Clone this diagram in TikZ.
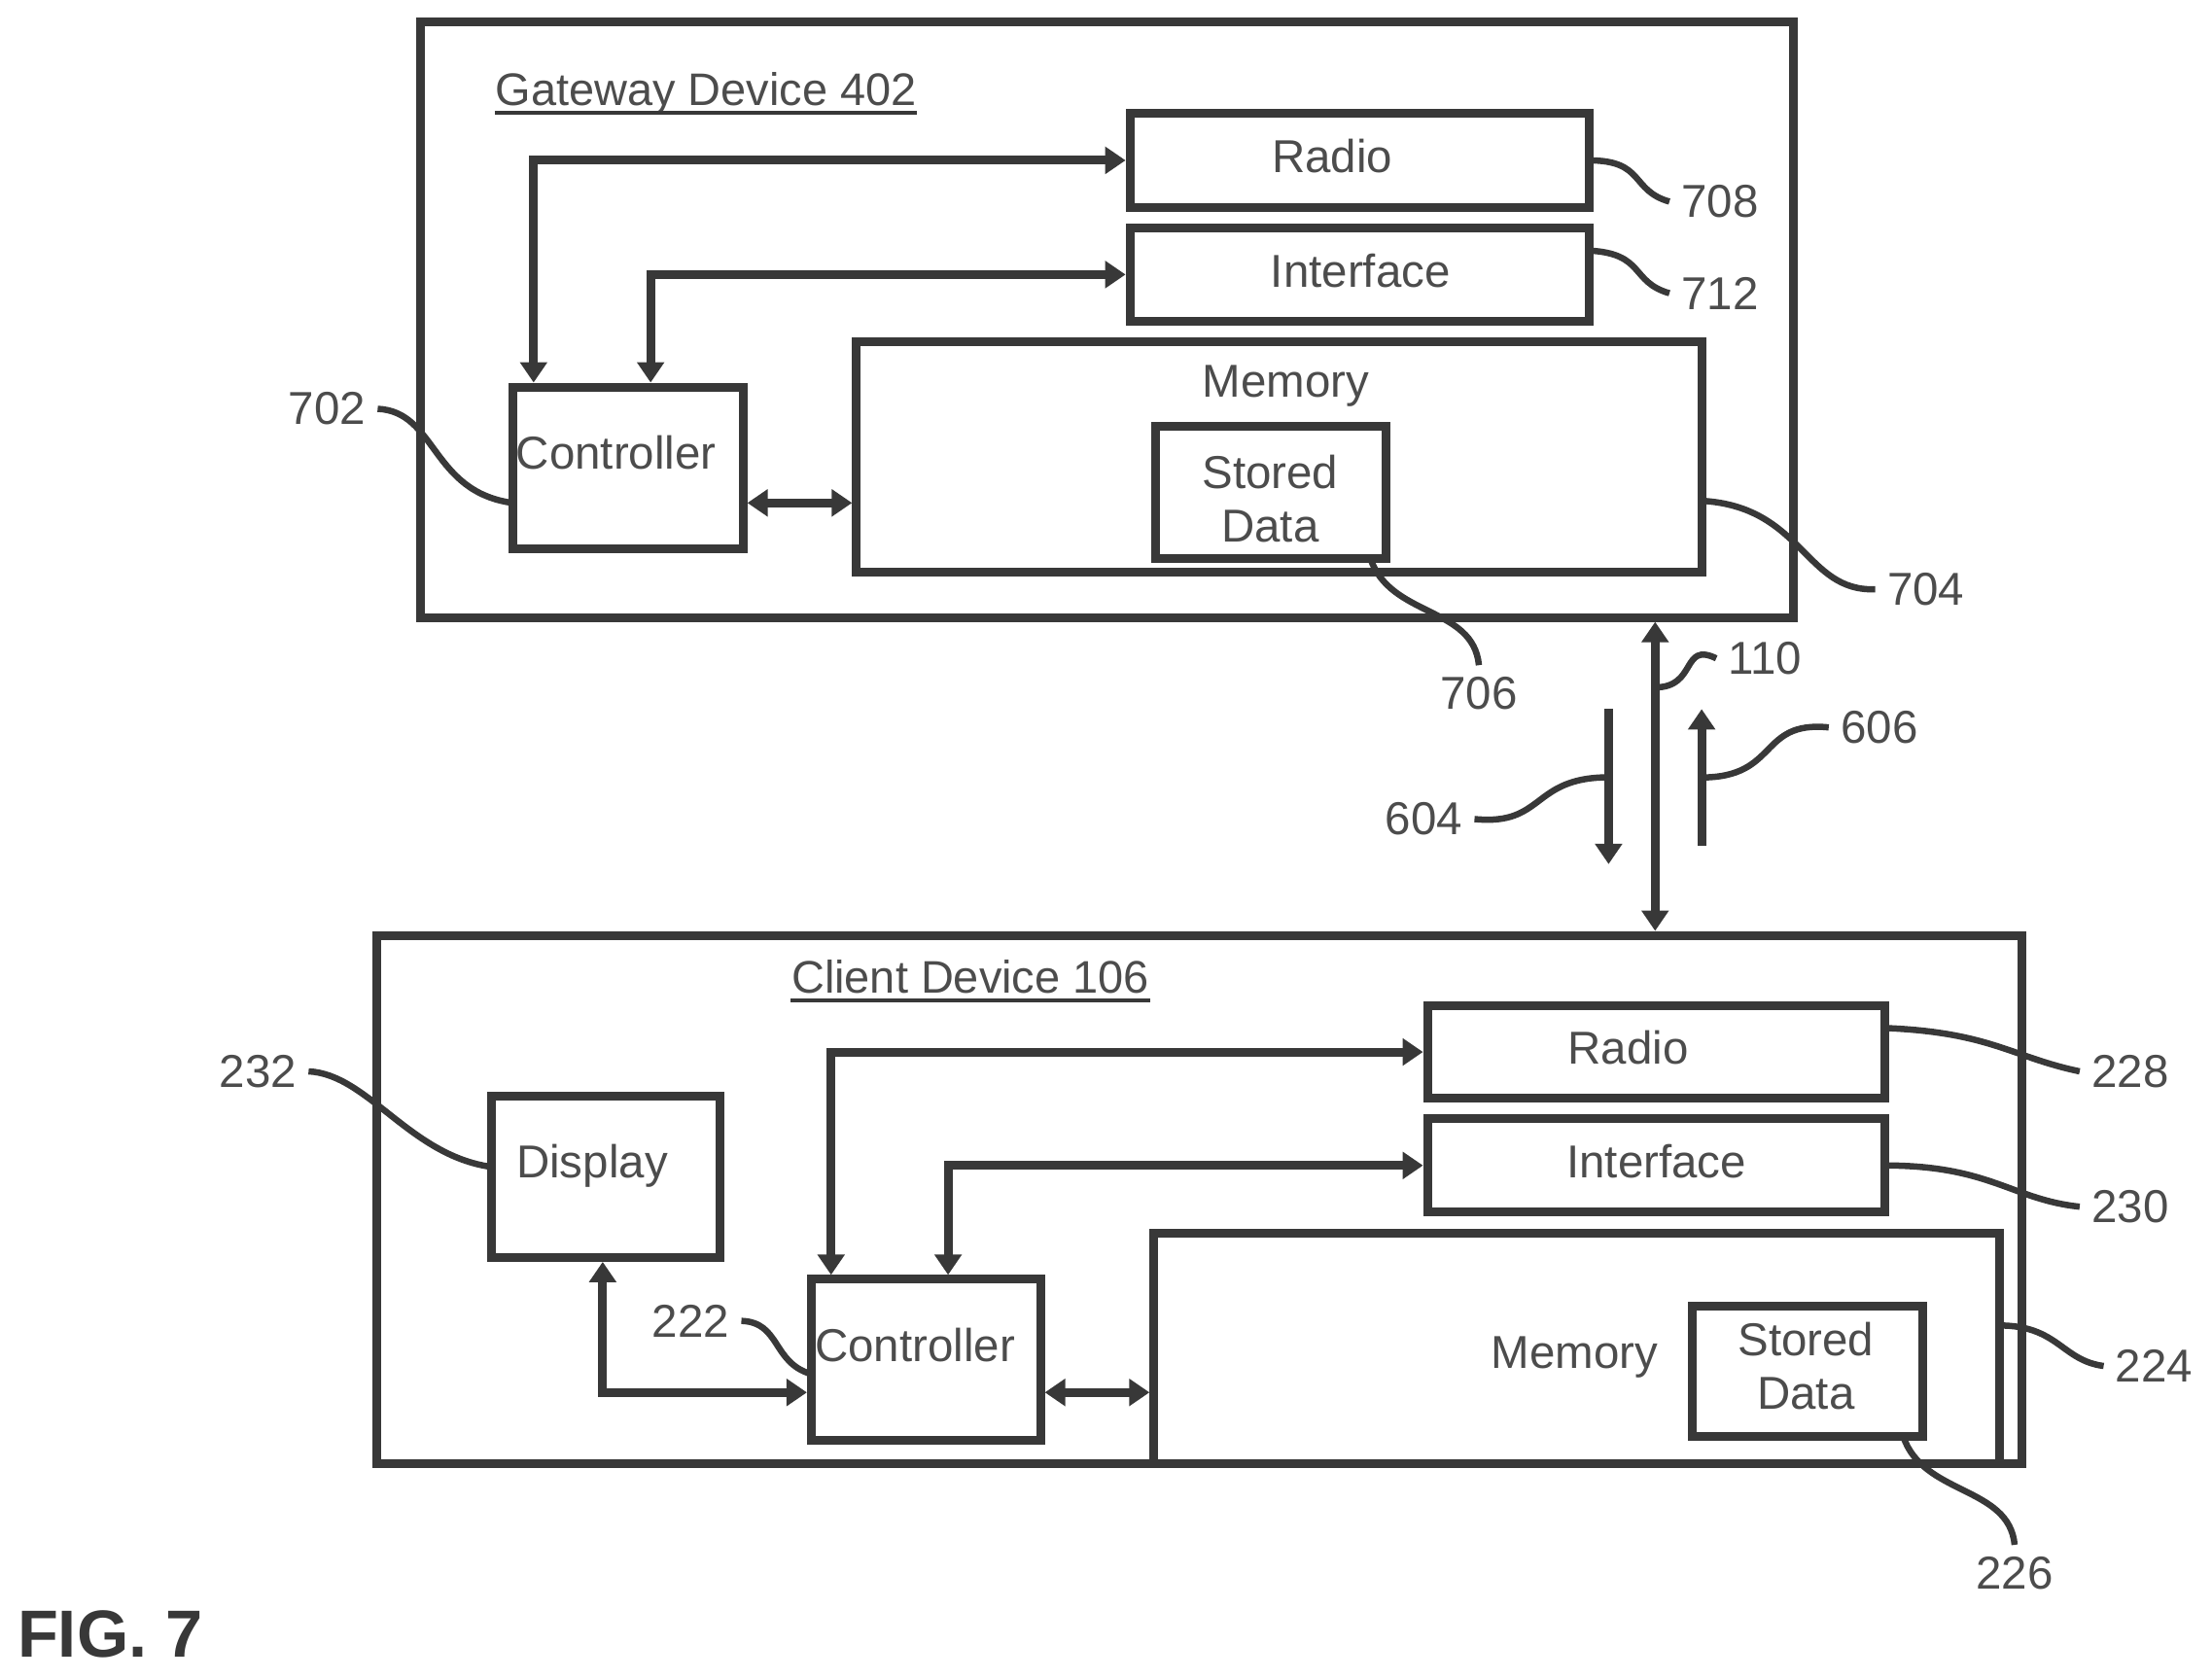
\documentclass[tikz,border=0pt]{standalone}
\usepackage{fontspec}
\setmainfont{Liberation Sans}
\usetikzlibrary{arrows.meta,calc}
\definecolor{inkline}{gray}{0.22}
\definecolor{inktext}{gray}{0.30}
\tikzset{
  devbox/.style 2 args={draw=inkline, line width=0.09cm, outer sep=0pt, anchor=north west,
    minimum width=#1*0.0145cm, minimum height=#2*0.0145cm},
  link/.style={draw=inkline, line width=0.09cm, {Triangle[length=0.21cm,width=0.27cm]}-{Triangle[length=0.21cm,width=0.27cm]},
    shorten <=0.045cm, shorten >=0.045cm},
  oneway/.style={draw=inkline, line width=0.09cm, -{Triangle[length=0.21cm,width=0.27cm]}},
  leader/.style={draw=inkline, line width=0.065cm},
  txt/.style={text=inktext, font=\fontsize{13.5}{15.7}\selectfont, align=center},
  titletxt/.style={txt, font=\fontsize{13.35}{15.7}\selectfont, anchor=south west, inner xsep=0pt, inner ysep=1pt, text depth=1pt},
  titlerule/.style={draw=inkline, line width=0.04cm}
}
\begin{document}
\begin{tikzpicture}[x=0.0145cm, y=-0.0145cm]
    \useasboundingbox (0,0) rectangle (1569,1191);

    % the gateway and its blocks
    \node[devbox={973.5}{422.5}] (gateway) at (298.5,15.5) {};
    \node[devbox={325.5}{66.5}] (gwradio) at (801.5,80.5) {};
    \node[devbox={325.5}{66.5}] (gwiface) at (801.5,161.5) {};
    \node[devbox={599.5}{163.5}] (gwmem) at (607.5,242.5) {};
    \node[devbox={163}{93.5}] (gwdata) at (820,302.5) {};
    \node[devbox={163.5}{114.5}] (gwctrl) at (363.5,274.5) {};

    % the client and its blocks
    \node[devbox={1166.5}{374.5}] (client) at (267.5,663.5) {};
    \node[devbox={324.5}{65.5}] (clradio) at (1012.5,713.5) {};
    \node[devbox={324.5}{66.5}] (cliface) at (1012.5,793.5) {};
    \node[devbox={599.5}{163.5}] (clmem) at (818.5,874.5) {};
    \node[devbox={163.5}{92.5}] (cldata) at (1200.5,926.5) {};
    \node[devbox={162.5}{114.5}] (clctrl) at (575.5,907.5) {};
    \node[devbox={162.5}{114.5}] (cldisp) at (348.5,777.5) {};

    % the texts
    \node[titletxt] (gwtitle) at (351,80) {Gateway Device 402};
    \node[titletxt] (cltitle) at (561,710) {Client Device 106};
    \draw[titlerule] (gwtitle.south west) -- (gwtitle.south east);
    \draw[titlerule] (cltitle.south west) -- (cltitle.south east);
    \node[txt] (gwradiot) at (945,111) {Radio};
    \node[txt] (gwifacet) at (965,192) {Interface};
    \node[txt] (gwmemt) at (912,274) {Memory};
    \node[txt] (gwdatat) at (901,354) {Stored\\Data};
    \node[txt] (gwctrlt) at (437,321) {Controller};
    \node[txt] (clradiot) at (1155,743) {Radio};
    \node[txt] (clifacet) at (1175,824) {Interface};
    \node[txt] (clmemt) at (1117,963) {Memory};
    \node[txt] (cldatat) at (1281,969) {Stored\\Data};
    \node[txt] (clctrlt) at (649,954) {Controller};
    \node[txt] (cldispt) at (420,827) {Display};
    \node[text=inkline, font=\fontsize{19.5}{22}\selectfont\bfseries, anchor=west, inner sep=0pt] (figlabel) at (12,1159) {FIG. 7};

    % the reference numbers
    \node[txt] (n702) at (232,290) {702};
    \node[txt] (n708) at (1220,143) {708};
    \node[txt] (n712) at (1220,208) {712};
    \node[txt] (n704) at (1366,418) {704};
    \node[txt] (n706) at (1049,492) {706};
    \node[txt] (n110) at (1252,467) {110};
    \node[txt] (n606) at (1333,516) {606};
    \node[txt] (n604) at (1010,581) {604};
    \node[txt] (n232) at (183,760) {232};
    \node[txt] (n222) at (490,937) {222};
    \node[txt] (n228) at (1511,760) {228};
    \node[txt] (n230) at (1511,856) {230};
    \node[txt] (n224) at (1528,969) {224};
    \node[txt] (n226) at (1429,1116) {226};

    % points off the anchors, used by the arrows and the leaders below
    \coordinate (gwmemlink) at ($(gwctrl.east)+(0,25)$);
    \coordinate (clmemlink) at ($(clctrl.east)+(0,23)$);
    \coordinate (clfromdisp) at ($(clctrl.west)+(0,23)$);
    \coordinate (air) at ($(gateway.south east)+(-98,0)$);
    \coordinate (dntop) at (1141,503);
    \coordinate (dnend) at (1141,613);
    \coordinate (uptop) at (1207,503);
    \coordinate (upend) at (1207,600);

    % draw the arrows
    \draw[link] ($(gwctrl.north west)+(15,0)$) |- (gwradio.west);
    \draw[link] ($(gwctrl.north west)+(98,0)$) |- (gwiface.west);
    \draw[link] (gwmemlink) -- (gwmemlink -| gwmem.west);
    \draw[link] ($(clctrl.north west)+(14,0)$) |- (clradio.west);
    \draw[link] ($(clctrl.north west)+(97,0)$) |- (cliface.west);
    \draw[link] (clmemlink) -- (clmemlink -| clmem.west);
    \draw[link] ($(cldisp.south west)+(79,0)$) |- (clfromdisp);
    \draw[link] (air) -- (air |- client.north);
    \draw[oneway] (dntop) -- (dnend);
    \draw[oneway] (upend) -- (uptop);

    % draw the leaders
    \draw[leader] (n702.east) .. controls +(42,2) and +(-58,-8) .. ($(gwctrl.west)+(0,25)$);
    \draw[leader] (gwradio.east) .. controls +(40,0) and +(-28,-8) .. (n708.west);
    \draw[leader] ($(gwiface.east)+(0,-17)$) .. controls +(40,2) and +(-28,-8) .. (n712.west);
    \draw[leader] ($(gwmem.east)+(0,31)$) .. controls +(72,4) and +(-50,2) .. (n704.west);
    \draw[leader] ($(gwdata.south east)+(-11,0)$) .. controls +(14,42) and +(-4,-42) .. (n706.north);
    \draw[leader] ($(air)!.22!(air |- client.north)$) .. controls +(30,0) and +(-25,-12) .. (n110.west);
    \draw[leader] ($(upend)!.5!(uptop)$) .. controls +(55,0) and +(-50,-5) .. (n606.west);
    \draw[leader] ($(dntop)!.44!(dnend)$) .. controls +(-55,0) and +(50,5) .. (n604.east);
    \draw[leader] (n232.east) .. controls +(42,2) and +(-58,-8) .. ($(cldisp.west)+(0,-7)$);
    \draw[leader] (n222.east) .. controls +(28,1) and +(-28,-8) .. ($(clctrl.west)+(0,10)$);
    \draw[leader] ($(clradio.east)+(0,-17)$) .. controls +(75,3) and +(-48,-10) .. (n228.west);
    \draw[leader] (cliface.east) .. controls +(75,0) and +(-48,-5) .. (n230.west);
    \draw[leader] ($(clmem.east)+(0,-16)$) .. controls +(42,0) and +(-30,-4) .. (n224.west);
    \draw[leader] ($(cldata.south east)+(-14,0)$) .. controls +(14,42) and +(-4,-42) .. (n226.north);
\end{tikzpicture}
\end{document}
